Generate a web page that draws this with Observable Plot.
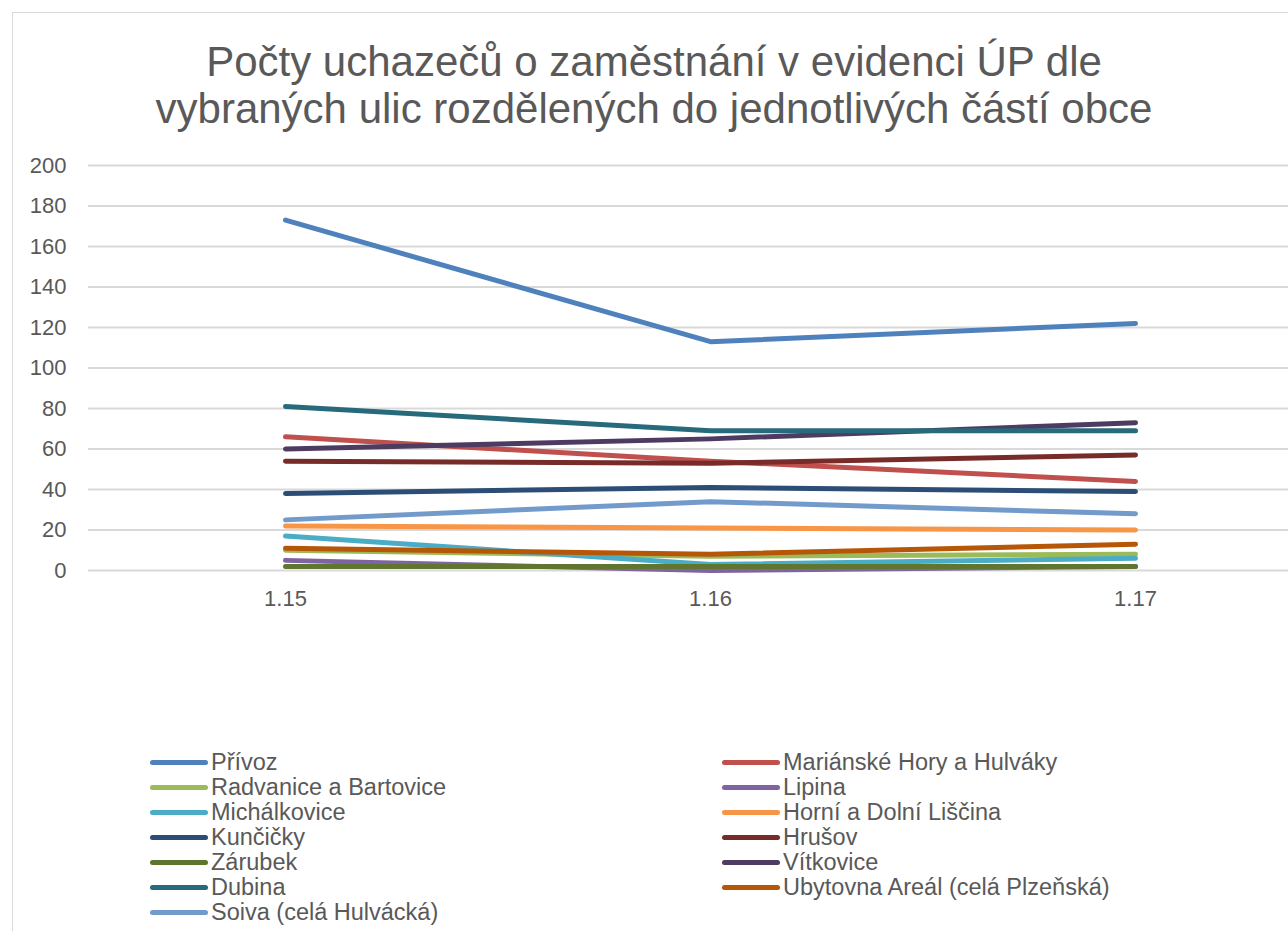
<!DOCTYPE html>
<html>
<head>
<meta charset="utf-8">
<script src="https://cdn.jsdelivr.net/npm/d3@7"></script>
<script src="https://cdn.jsdelivr.net/npm/@observablehq/plot@0.6"></script>
<style>
  html, body { margin: 0; padding: 0; background: #fff; overflow: hidden; }
  body { width: 1288px; height: 931px; position: relative; font-family: "Liberation Sans", Arial, sans-serif; color: #595959; }
  #frame { position: absolute; left: 12px; top: 12px; width: 1400px; height: 1000px; border-left: 1px solid #d9d9d9; border-top: 1px solid #d9d9d9; }
  #title { position: absolute; left: 0; top: 38px; width: 1308px; text-align: center; font-size: 42px; line-height: 47px; color: #595959; }
  #chart { position: absolute; left: 0; top: 150px; }
  #legend { position: absolute; left: 150px; top: 750px; display: grid; grid-template-columns: 572px 500px; row-gap: 0px; }
  .item { display: flex; align-items: center; height: 25px; font-size: 23.5px; white-space: nowrap; }
  .sw { width: 58px; height: 5px; border-radius: 3px; margin-right: 3px; }
</style>
</head>
<body>
<div id="frame"></div>
<div id="title">Počty uchazečů o zaměstnání v evidenci ÚP dle<br>vybraných ulic rozdělených do jednotlivých částí obce</div>
<div id="chart"></div>
<div id="legend"></div>
<script>
const categories = ["1.15", "1.16", "1.17"];
const seriesNames = [
  "Přívoz", "Mariánské Hory a Hulváky", "Radvanice a Bartovice", "Lipina",
  "Michálkovice", "Horní a Dolní Liščina", "Kunčičky", "Hrušov",
  "Zárubek", "Vítkovice", "Dubina", "Ubytovna Areál (celá Plzeňská)",
  "Soiva (celá Hulvácká)"
];
const privoz = [173, 113, 122];
const marianske = [66, 54, 44];
const radvanice = [10, 7, 8];
const lipina = [5, 0, 2];
const michalkovice = [17, 3, 6];
const horniDolni = [22, 21, 20];
const kuncicky = [38, 41, 39];
const hrusov = [54, 53, 57];
const zarubek = [2, 2, 2];
const vitkovice = [60, 65, 73];
const dubina = [81, 69, 69];
const ubytovna = [11, 8, 13];
const soiva = [25, 34, 28];
const seriesValues = [privoz, marianske, radvanice, lipina, michalkovice, horniDolni,
  kuncicky, hrusov, zarubek, vitkovice, dubina, ubytovna, soiva];
const colors = ["#4F81BD", "#C0504D", "#9BBB59", "#8064A2", "#4BACC6", "#F79646",
  "#2C4D75", "#772C2A", "#5F7530", "#4D3B62", "#276A7C", "#B65708", "#729ACA"];
const yTicks = [0, 20, 40, 60, 80, 100, 120, 140, 160, 180, 200];

const data = [];
seriesNames.forEach((s, i) => {
  categories.forEach((c, j) => data.push({series: s, cat: c, value: seriesValues[i][j]}));
});

const chart = Plot.plot({
  width: 1288,
  height: 470,
  marginTop: 15,
  marginBottom: 50,
  marginLeft: 88,
  marginRight: 0,
  style: {fontFamily: "'Liberation Sans', Arial, sans-serif", fontSize: "22px", color: "#595959", background: "transparent", overflow: "visible"},
  x: {type: "point", domain: categories, range: [285, 1135], padding: 0, label: null},
  y: {domain: [0, 200], label: null},
  color: {domain: seriesNames, range: colors},
  marks: [
    Plot.gridY(yTicks, {stroke: "#d9d9d9", strokeOpacity: 1, strokeWidth: 2}),
    Plot.axisY(yTicks, {tickSize: 0, tickPadding: 22, fontSize: 22, fill: "#595959", label: null}),
    Plot.axisX(categories, {tickSize: 0, tickPadding: 20, fontSize: 22, fill: "#595959", label: null}),
    Plot.line(data, {x: "cat", y: "value", z: "series", stroke: "series", strokeWidth: 5, strokeLinecap: "round", strokeLinejoin: "round"})
  ]
});
document.getElementById("chart").appendChild(chart);

const legend = document.getElementById("legend");
seriesNames.forEach((s, i) => {
  const item = document.createElement("div");
  item.className = "item";
  const sw = document.createElement("div");
  sw.className = "sw";
  sw.style.background = colors[i];
  const t = document.createElement("span");
  t.textContent = s;
  item.appendChild(sw);
  item.appendChild(t);
  legend.appendChild(item);
});
</script>
</body>
</html>
